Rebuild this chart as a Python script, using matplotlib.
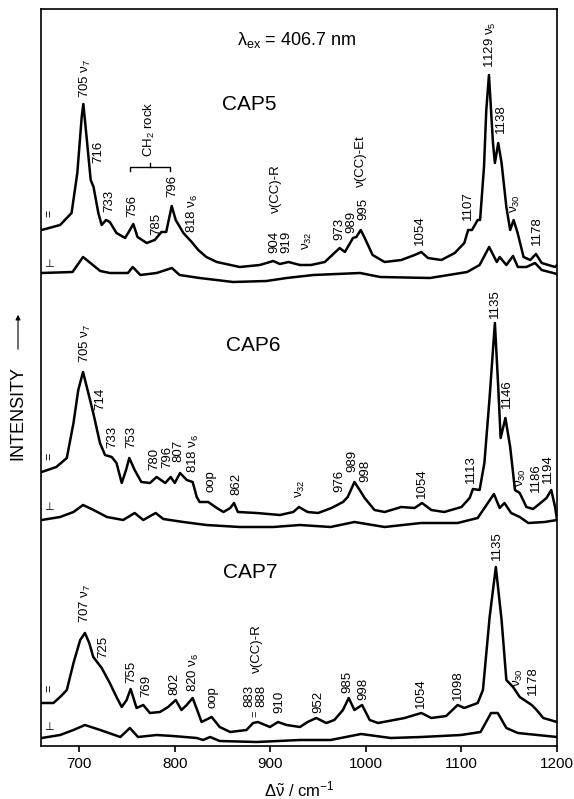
import matplotlib
matplotlib.use('Agg')
import matplotlib.pyplot as plt

plt.rcParams['font.family'] = ['Liberation Sans', 'DejaVu Sans']
plt.rcParams['mathtext.fontset'] = 'custom'
plt.rcParams['mathtext.rm'] = 'Liberation Sans'
plt.rcParams['mathtext.it'] = 'Liberation Sans:italic'
plt.rcParams['mathtext.sf'] = 'Liberation Sans'

# traced spectra: wavenumber (cm-1) and intensity (offset per trace already included)
cap5_par_x = [660.7, 680, 692, 698, 702.6, 704.3, 708, 712, 715, 720, 723.5, 728, 732, 739, 748, 753,
              756.6, 761, 770.6, 779, 786, 791, 796.8, 801, 809, 817.7, 824.6, 833, 844, 868, 889, 903,
              910, 919, 931, 942.5, 957, 967, 972.6, 978, 986.5, 990, 994.6, 998.8, 1007, 1019.6, 1037,
              1051, 1058, 1065, 1079, 1093, 1103, 1107, 1111, 1117, 1119.5, 1123.6, 1126, 1128.8, 1133,
              1135, 1138.5, 1142, 1147, 1151, 1154.6, 1158.8, 1165, 1172, 1178, 1184, 1198, 1200]
cap5_par_y = [516, 521, 533, 573, 629, 642, 606, 566, 559, 533, 521, 526, 524, 513, 508, 516,
              522, 509, 503, 506, 514, 514, 540, 526, 513, 504, 496, 489, 484, 479, 481, 485,
              482, 484, 481, 481, 484, 493, 498, 494, 508, 509, 516, 508, 491, 484, 486,
              491, 494, 488, 486, 493, 503, 516, 516, 526, 526, 579, 636, 671, 603,
              583, 603, 583, 539, 516, 526, 513, 489, 486, 492, 483, 479, 481]

cap5_perp_x = [660.7, 693, 704, 722, 732, 751, 756, 764, 781, 797, 805, 826, 861, 896, 917, 945, 994,
               1015, 1067, 1106, 1119, 1129, 1137, 1140, 1147, 1154, 1159, 1168, 1177, 1184, 1200]
cap5_perp_y = [473, 474, 489, 475, 473, 473, 479, 471, 473, 478, 471, 468, 464, 465, 468, 471, 473,
               469, 468, 474, 481, 499, 484, 489, 481, 490, 479, 479, 483, 476, 472]

cap6_par_x = [660.7, 676, 687, 694, 699, 704, 709.5, 714.7, 721.7, 727, 734, 739, 744.5, 749, 752.4,
              758, 765, 774, 781, 790, 795.7, 800, 805.5, 812.5, 818.7, 823, 826, 835, 844, 851, 858,
              862, 866, 885.7, 910, 924, 930, 939, 950, 964, 976, 981, 988, 993.5, 998.7, 1009,
              1019.7, 1037, 1051, 1058.7, 1068.5, 1082, 1100, 1108.6, 1112, 1119, 1124, 1129.5, 1135,
              1138.5, 1141, 1146, 1151, 1156, 1161, 1168, 1175, 1184, 1189, 1194, 1198, 1200]
cap6_par_y = [274, 279, 288, 323, 356, 374, 353, 333, 303, 291, 289, 283, 263, 276, 288,
              276, 264, 263, 269, 263, 269, 263, 273, 266, 264, 249, 244, 244, 238, 234, 238,
              243, 234, 233, 231, 234, 239, 234, 233, 238, 244, 249, 264, 256, 248, 236,
              234, 239, 238, 243, 236, 234, 239, 248, 257, 256, 283, 349, 423,
              359, 308, 328, 299, 256, 253, 239, 237, 244, 248, 256, 239, 226]

cap6_perp_x = [660.7, 680, 694, 704, 715, 729, 746, 758, 767, 780, 788, 809, 833, 868, 903, 931, 963,
               988, 1019.6, 1057.7, 1096, 1117, 1134, 1140, 1145, 1152, 1161, 1170, 1187, 1200]
cap6_perp_y = [226, 229, 234, 241, 236, 229, 226, 233, 226, 233, 227, 224, 221, 219, 219, 221, 219,
               224, 219, 223, 223, 228, 252, 238, 243, 233, 229, 223, 224, 226]

cap7_par_x = [660.7, 673, 680, 687, 694, 701, 706, 710.5, 714.7, 723.5, 732, 739, 744.5, 749.6, 753.8,
              760, 767, 774, 784.5, 793, 801, 807, 812.5, 818.7, 824.6, 828, 838.6, 847, 858, 875, 882,
              887, 899.6, 908, 917, 931, 939, 948, 958.6, 967, 976, 982, 988, 996, 1004, 1012.7,
              1040.6, 1058, 1068.5, 1084, 1096, 1103, 1108.6, 1117, 1122.5, 1129.5, 1136, 1142, 1147,
              1154, 1161, 1173.5, 1178.7, 1185.6, 1200]
cap7_par_y = [43, 43, 49, 56, 83, 106, 113, 103, 89, 78, 63, 49, 39, 46, 57,
              38, 41, 33, 34, 39, 46, 36, 41, 48, 33, 24, 29, 19, 14, 16, 23,
              24, 19, 24, 21, 19, 24, 28, 23, 26, 36, 48, 36, 41, 26, 23,
              28, 33, 28, 30, 41, 38, 40, 43, 56, 129, 179, 126, 66,
              59, 49, 41, 36, 28, 24]

cap7_perp_x = [660.7, 680, 694, 706, 722, 743, 753, 761.5, 781, 798, 823, 829.6, 837, 847, 885.7, 931,
               963, 995, 1026, 1058, 1099.5, 1120, 1131, 1138, 1147, 1159, 1200]
cap7_perp_y = [8, 11, 16, 21, 16, 9, 18, 9, 11, 10, 8, 6, 9, 5, 4, 6,
               6, 12, 8, 9, 11, 14, 33, 33, 18, 13, 9]

xticks = [700, 800, 900, 1000, 1100, 1200]

# peak labels: (text, wavenumber, bottom of label)
labels = [
    # CAP5
    (r'705 ν$_7$', 706, 648), ('716', 719.7, 583), ('733', 732, 534), ('756', 756, 529),
    ('785', 781, 511), ('796', 797, 549), (r'818 ν$_6$', 818, 513), (r'CH$_2$ rock', 774, 589),
    ('ν(CC)-R', 906, 533), ('904', 904, 493), ('919', 917, 493), (r'ν$_{32}$', 939, 496),
    ('973', 972, 506), ('989', 985, 513), ('995', 997, 526), ('ν(CC)-Et', 995, 559),
    ('1054', 1057, 501), ('1107', 1107, 526), (r'1129 ν$_5$', 1130, 678), ('1138', 1141, 613),
    (r'ν$_{30}$', 1157, 533), ('1178', 1179, 501),
    # CAP6
    (r'705 ν$_7$', 706, 383), ('714', 721.7, 336), ('733', 735, 298), ('753', 755, 298),
    ('780', 779, 276), ('796', 792, 278), ('807', 804, 284), (r'818 ν$_6$', 820, 273),
    ('oop', 837, 254), ('862', 864, 251), (r'ν$_{32}$', 931, 248), ('976', 972, 254),
    ('989', 985.5, 274), ('998', 999, 264), ('1054', 1059, 248), ('1113', 1110, 263),
    ('1135', 1135, 428), ('1146', 1147.7, 338), (r'ν$_{30}$', 1163, 259), ('1186', 1178, 254),
    ('1194', 1190.6, 263),
    # CAP7
    (r'707 ν$_7$', 707, 123), ('725', 725, 88), ('755', 755, 63), ('769', 770, 49),
    ('802', 800, 51), (r'820 ν$_6$', 820, 54), ('oop', 839, 38), ('883', 878, 39),
    ('888', 891, 39), ('ν(CC)-R', 886, 73), ('910', 909, 33), ('952', 950, 33),
    ('985', 981, 53), ('998', 997, 46), ('1054', 1058, 38), ('1098', 1096, 46),
    ('1135', 1137, 186), (r'ν$_{30}$', 1160, 59), ('1178', 1175, 51),
]

names = ['CAP5', 'CAP6', 'CAP7']
name_pos = [(878, 642), (882, 401), (879, 173)]
pol_par_y = [533, 290, 58]
pol_perp_y = [482, 239, 19]

fig = plt.figure(figsize=(5.74, 7.99), dpi=100)
ax = fig.add_axes([41 / 574, 1 - 746 / 799, 516 / 574, 737 / 799])

for xs, ys in [(cap5_par_x, cap5_par_y), (cap5_perp_x, cap5_perp_y),
               (cap6_par_x, cap6_par_y), (cap6_perp_x, cap6_perp_y),
               (cap7_par_x, cap7_par_y), (cap7_perp_x, cap7_perp_y)]:
    ax.plot(xs, ys, color='black', lw=1.8, solid_joinstyle='round')

ax.set_xlim(660, 1200)
ax.set_ylim(0, 737)
ax.set_yticks([])
ax.set_xticks(xticks)
ax.set_xticklabels([str(t) for t in xticks], fontsize=11)
ax.tick_params(axis='x', direction='out', length=4, width=1.2, pad=4)
for sp in ax.spines.values():
    sp.set_linewidth(1.2)

for txt, x, y in labels:
    ax.text(x, y, txt, rotation=90, ha='center', va='bottom', fontsize=9.5)

# small "=" below 888 in CAP7
ax.text(885, 32, '=', rotation=90, ha='center', va='center', fontsize=8)

# CH2 rock bracket
ax.plot([753, 753, 795, 795], [575, 579, 579, 575], color='black', lw=1.0)
ax.plot([774, 774], [579, 583], color='black', lw=1.0)

for name, (x, y) in zip(names, name_pos):
    ax.text(x, y, name, ha='center', va='center', fontsize=15)

for y in pol_par_y:
    ax.text(668.4, y, '=', rotation=90, ha='center', va='center', fontsize=9)
for y in pol_perp_y:
    ax.text(668.4, y, '⊥', ha='center', va='center', fontsize=8)

ax.text(928, 701, r'λ$_{\mathrm{ex}}$ = 406.7 nm', ha='center', va='baseline', fontsize=13)

ax.set_xlabel(r'Δ$\tilde{\mathrm{\nu}}$ / cm$^{-1}$', fontsize=12, labelpad=6)

fig.text(18 / 574, 1 - 413 / 799, 'INTENSITY', rotation=90, ha='center', va='center', fontsize=13)
fig.add_artist(matplotlib.patches.FancyArrowPatch(
    (18 / 574, 1 - 352 / 799), (18 / 574, 1 - 312 / 799), transform=fig.transFigure,
    arrowstyle='-|>', mutation_scale=7, lw=0.8, color='black'))

fig.savefig('out.png', dpi=100)
